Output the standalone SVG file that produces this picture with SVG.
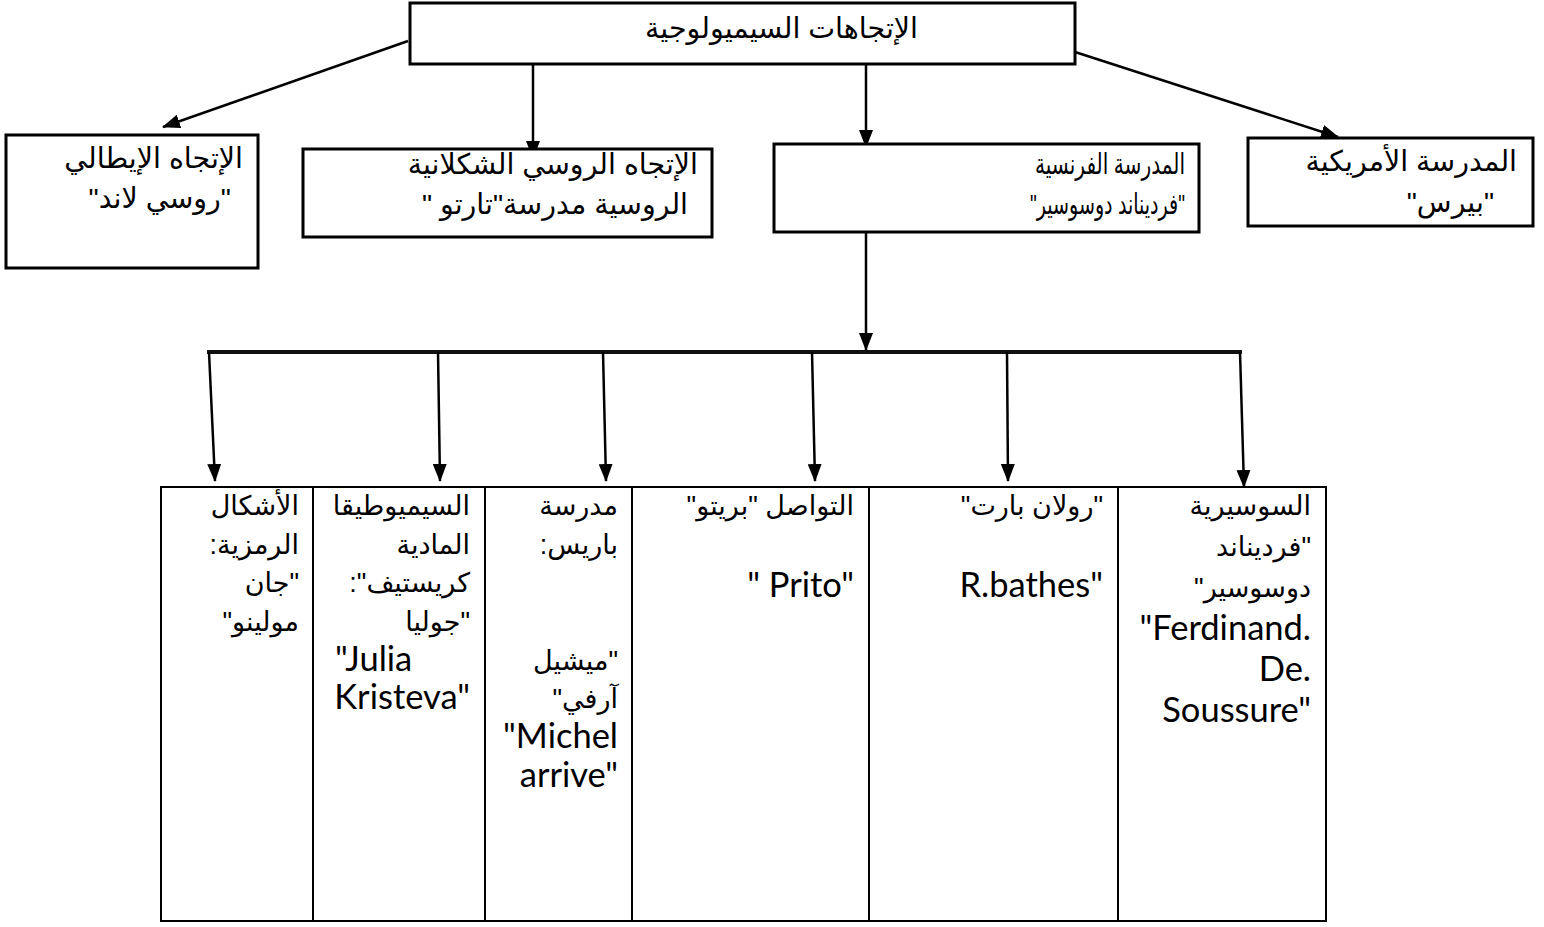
<svg xmlns="http://www.w3.org/2000/svg" width="1544" height="927" viewBox="0 0 1544 927">
<style>
  .box { fill: #fff; stroke: #000; stroke-width: 3; }
  .cell { fill: none; stroke: #000; stroke-width: 2; }
  .ar { font-family: "Liberation Sans", "DejaVu Sans", sans-serif; font-size: 28.5px; fill: #000; direction: rtl; text-anchor: start; }
  .arb { font-family: "Liberation Sans", "DejaVu Sans", sans-serif; font-size: 27px; fill: #000; direction: rtl; text-anchor: start; }
  .lat { font-family: Lato, "Open Sans", sans-serif; font-size: 34.5px; fill: #000; text-anchor: end; }
  .latl { font-family: Lato, "Open Sans", sans-serif; font-size: 34.5px; fill: #000; text-anchor: start; }
  .conn line { stroke: #000; stroke-width: 2.5; }
  .conn line.bar { stroke: #111; stroke-width: 4; }
</style>
<defs>
  <marker id="ah" markerUnits="userSpaceOnUse" markerWidth="18" markerHeight="14" refX="17" refY="7" orient="auto">
    <path d="M0,0 L18,7 L0,14 z" fill="#000"/>
  </marker>
</defs>
<rect width="1544" height="927" fill="#fff"/>

<g id="connectors" class="conn">
  <line x1="408" y1="41" x2="163" y2="127" marker-end="url(#ah)"/>
  <line x1="533" y1="64" x2="533" y2="158" marker-end="url(#ah)"/>
  <line x1="866" y1="64" x2="866" y2="147" marker-end="url(#ah)"/>
  <line x1="1075" y1="52" x2="1338" y2="137" marker-end="url(#ah)"/>
  <line x1="866" y1="232" x2="866" y2="350" marker-end="url(#ah)"/>
  <line class="bar" x1="207" y1="352" x2="1242" y2="352"/>
  <line x1="209" y1="352" x2="215" y2="481" marker-end="url(#ah)"/>
  <line x1="438" y1="352" x2="440" y2="481" marker-end="url(#ah)"/>
  <line x1="603" y1="352" x2="606" y2="481" marker-end="url(#ah)"/>
  <line x1="812" y1="352" x2="815" y2="481" marker-end="url(#ah)"/>
  <line x1="1007" y1="352" x2="1008" y2="481" marker-end="url(#ah)"/>
  <line x1="1240" y1="352" x2="1244" y2="487" marker-end="url(#ah)"/>
</g>

<g id="root">
  <rect class="box" x="410" y="3" width="665" height="61"/>
  <text class="ar" x="918" y="38">الإتجاهات السيميولوجية</text>
</g>

<g id="italian">
  <rect class="box" x="6" y="135" width="252" height="133"/>
  <text class="ar" x="243" y="168">الإتجاه الإيطالي</text>
  <text class="ar" x="231" y="208">"روسي لاند"</text>
</g>

<g id="russian">
  <rect class="box" x="303" y="149" width="409" height="88"/>
  <text class="ar" x="698" y="174">الإتجاه الروسي الشكلانية</text>
  <text class="ar" x="688" y="214">الروسية مدرسة"تارتو "</text>
</g>

<g id="french">
  <rect class="box" x="774" y="144" width="425" height="88"/>
  <text class="ar" x="1185" y="174" textLength="150" lengthAdjust="spacingAndGlyphs">المدرسة الفرنسية</text>
  <text class="ar" x="1185" y="214" textLength="155" lengthAdjust="spacingAndGlyphs">"فرديناند دوسوسير"</text>
</g>

<g id="american">
  <rect class="box" x="1248" y="138" width="285" height="88"/>
  <text class="ar" x="1517" y="171">المدرسة الأمريكية</text>
  <text class="ar" x="1494" y="212">"بيرس"</text>
</g>

<g id="table">
  <rect class="cell" x="161" y="487" width="1165" height="434"/>
  <line class="cell" x1="313" y1="487" x2="313" y2="921"/>
  <line class="cell" x1="485" y1="487" x2="485" y2="921"/>
  <line class="cell" x1="632" y1="487" x2="632" y2="921"/>
  <line class="cell" x1="869" y1="487" x2="869" y2="921"/>
  <line class="cell" x1="1118" y1="487" x2="1118" y2="921"/>
</g>

<g id="col-forms">
  <text class="arb" x="299" y="515">الأشكال</text>
  <text class="arb" x="299" y="554">الرمزية:</text>
  <text class="arb" x="299" y="592">"جان</text>
  <text class="arb" x="299" y="631">مولينو"</text>
</g>

<g id="col-kristeva">
  <text class="arb" x="470" y="515">السيميوطيقا</text>
  <text class="arb" x="470" y="554">المادية</text>
  <text class="arb" x="470" y="592">كريستيف":</text>
  <text class="arb" x="470" y="631">"جوليا</text>
  <text class="latl" x="335" y="671">"Julia</text>
  <text class="lat" x="470" y="709">Kristeva"</text>
</g>

<g id="col-paris">
  <text class="arb" x="618" y="515">مدرسة</text>
  <text class="arb" x="618" y="554">باريس:</text>
  <text class="arb" x="618" y="670">"ميشيل</text>
  <text class="arb" x="618" y="708">آرفي"</text>
  <text class="lat" x="618" y="748">"Michel</text>
  <text class="lat" x="618" y="787">arrive"</text>
</g>

<g id="col-prito">
  <text class="arb" x="854" y="515">التواصل "بريتو"</text>
  <text class="lat" x="854" y="597">" Prito"</text>
</g>

<g id="col-barthes">
  <text class="arb" x="1103" y="515">"رولان بارت"</text>
  <text class="lat" x="1103" y="597">R.bathes"</text>
</g>

<g id="col-saussure">
  <text class="arb" x="1311" y="515">السوسيرية</text>
  <text class="arb" x="1311" y="556">"فرديناند</text>
  <text class="arb" x="1311" y="597">دوسوسير"</text>
  <text class="lat" x="1311" y="640">"Ferdinand.</text>
  <text class="lat" x="1311" y="681">De.</text>
  <text class="lat" x="1311" y="722">Soussure"</text>
</g>
</svg>
